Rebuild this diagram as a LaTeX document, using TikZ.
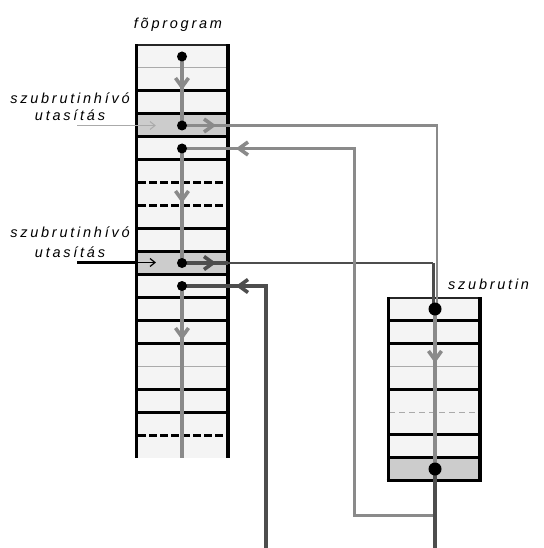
\documentclass[tikz,border=0pt]{standalone}
\usepackage{fontspec}
\setmainfont{Liberation Sans}
\newfontfamily\labfont[LetterSpace=19.0]{Liberation Sans}
\definecolor{rowfill}{HTML}{F4F4F4}
\definecolor{rowshade}{HTML}{CCCCCC}
\definecolor{flowgray}{HTML}{8A8A8A}
\definecolor{flowdark}{HTML}{4D4D4D}
\definecolor{thingray}{HTML}{AAAAAA}
\newcommand\chevD[3]{\draw[#3] ({#1-6.5},{#2-9}) -- (#1,#2) -- ({#1+6.5},{#2-9});}
\newcommand\chevR[3]{\draw[#3] ({#1-9},{#2-6.5}) -- (#1,#2) -- ({#1-9},{#2+6.5});}
\newcommand\chevL[3]{\draw[#3] ({#1+9},{#2-6.5}) -- (#1,#2) -- ({#1+9},{#2+6.5});}
\newcommand\chevRs[3]{\draw[#3] ({#1-5},{#2-4}) -- (#1,#2) -- ({#1-5},{#2+4});}
\tikzset{
  thickrow/.style={line width=3.2pt, black},
  thinrow/.style={line width=1pt, thingray},
  dashrow/.style={line width=3.2pt, black, dash pattern=on 7.5pt off 3.5pt},
  dashthin/.style={line width=1pt, thingray, dash pattern=on 6pt off 4pt},
  flowg/.style={line width=3.4pt, flowgray},
  flowd/.style={line width=3.4pt, flowdark},
  chevg/.style={line width=3.6pt, flowgray, miter limit=10},
  chevd/.style={line width=3.6pt, flowdark, miter limit=10},
  dotsmall/.style={circle, fill=black, inner sep=0pt, minimum size=10pt},
  dotbig/.style={circle, fill=black, inner sep=0pt, minimum size=13pt},
  lab/.style={font=\labfont\itshape\fontsize{14.5}{16}\selectfont, inner sep=0pt}
}
\begin{document}
\begin{tikzpicture}[x=1pt,y=-1pt]
\useasboundingbox[fill=white] (0,0) rectangle (543,548);
% ---------- main program box ----------
\fill[rowfill] (137,45) rectangle (228,458);
\fill[rowshade] (137,113.9) rectangle (228,136.8);
\fill[rowshade] (137,251.5) rectangle (228,274.5);
\foreach \k in {1,14} \draw[thinrow] (137,{45+22.95*\k}) -- (228,{45+22.95*\k});
\foreach \k in {2,3,4,5,8,9,10,11,12,13,15,16} \draw[thickrow] (137,{45+22.95*\k}) -- (228,{45+22.95*\k});
\foreach \k in {6,7,17} \draw[dashrow] (138,{45+22.95*\k}) -- (228,{45+22.95*\k});
\draw[line width=1.6pt, black!85] (135,45) -- (229.5,45);
\draw[line width=3.8pt] (136.5,44.2) -- (136.5,458);
\draw[line width=3.8pt] (228,44.2) -- (228,458);
% ---------- subroutine box ----------
\fill[rowfill] (389,298) rectangle (479,480);
\fill[rowshade] (389,457.6) rectangle (479,480);
\foreach \k in {1,2,4,6,7} \draw[thickrow] (389,{298+22.8*\k}) -- (479,{298+22.8*\k});
\draw[thinrow] (389,366.4) -- (479,366.4);
\draw[dashthin] (389,412) -- (479,412);
\draw[line width=1.6pt, black!85] (387,298) -- (481.5,298);
\draw[line width=3.8pt] (386.6,480.5) -- (481.9,480.5);
\draw[line width=3.8pt] (388.5,297.2) -- (388.5,482.4);
\draw[line width=3.8pt] (480,297.2) -- (480,482.4);
% ---------- coordinates ----------
\coordinate (m0) at (182,56.5);
\coordinate (m3) at (182,125.5);
\coordinate (m4) at (182,148.5);
\coordinate (m9) at (182,263);
\coordinate (m10) at (182,286);
\coordinate (mend) at (182,458);
\coordinate (s0) at (435,309);
\coordinate (s7) at (435,469);
\coordinate (g1) at (437,125.5);
\coordinate (g1e) at (437,309);
\coordinate (d1) at (433,263);
\coordinate (d1e) at (433,309);
\coordinate (r1a) at (435,515);
\coordinate (r1b) at (354,515);
\coordinate (r1c) at (354,148.5);
\coordinate (r2a) at (266,548);
\coordinate (r2b) at (266,286);
\coordinate (send) at (435,548);
\coordinate (in1) at (77,125.5);
\coordinate (in1e) at (155,125.5);
\coordinate (in2) at (77,262.5);
\coordinate (in2m) at (137,262.5);
\coordinate (in2e) at (155,262.5);
\coordinate (e1) at (228,125.5);
\coordinate (e2) at (228,263);
% ---------- flow lines ----------
\draw[flowg] (m0) -- (m3);
\draw[flowg] (m4) -- (m9);
\draw[flowg] (m10) -- (mend);
% first call
\draw[flowg] (m3) -- (e1);
\draw[flowg, line width=2.8pt] (e1) -- (g1) -- (g1e);
% second call
\draw[flowd] (m9) -- (e2);
\draw[flowd, line width=2pt] (e2) -- (d1);
\draw[flowd, line width=3pt] (d1) -- (d1e);
% subroutine body and returns
\draw[flowg, line width=3pt] (s7) -- (r1a) -- (r1b) -- (r1c) -- (m4);
\draw[flowd] (s7) -- (send);
\draw[flowg] (s0) -- (s7);
\draw[flowd] (r2a) -- (r2b) -- (m10);
% incoming arrows
\draw[thingray, line width=1pt] (in1) -- (in1e);
\chevRs{155}{125.5}{thingray, line width=1pt}
\draw[black, line width=3.2pt] (in2) -- (in2m);
\draw[black, line width=1.2pt] (in2m) -- (in2e);
\chevRs{155}{262.5}{black, line width=1.2pt}
% chevrons
\chevD{182}{87}{chevg}
\chevD{182}{200}{chevg}
\chevD{182}{337}{chevg}
\chevD{435}{360}{chevg}
\chevR{213}{125.5}{chevg}
\chevR{213}{263}{chevd}
\chevL{239}{148.5}{chevg}
\chevL{239}{286}{chevd}
% dots
\node[dotsmall] (dm0) at (m0) {};
\node[dotsmall] (dm3) at (m3) {};
\node[dotsmall] (dm4) at (m4) {};
\node[dotsmall] (dm9) at (m9) {};
\node[dotsmall] (dm10) at (m10) {};
\node[dotbig] (ds0) at (s0) {};
\node[dotbig] (ds7) at (s7) {};
% labels
\node[lab, anchor=base] (tmain) at (178,29) {fõprogram};
\node[lab, anchor=base] (tcall1a) at (70,104) {szubrutinhívó};
\node[lab, anchor=base] (tcall1b) at (70,121) {utasítás};
\node[lab, anchor=base] (tcall2a) at (70,237) {szubrutinhívó};
\node[lab, anchor=base] (tcall2b) at (70,257) {utasítás};
\node[lab, anchor=base west] (tsub) at (448,289) {szubrutin};
\end{tikzpicture}
\end{document}
